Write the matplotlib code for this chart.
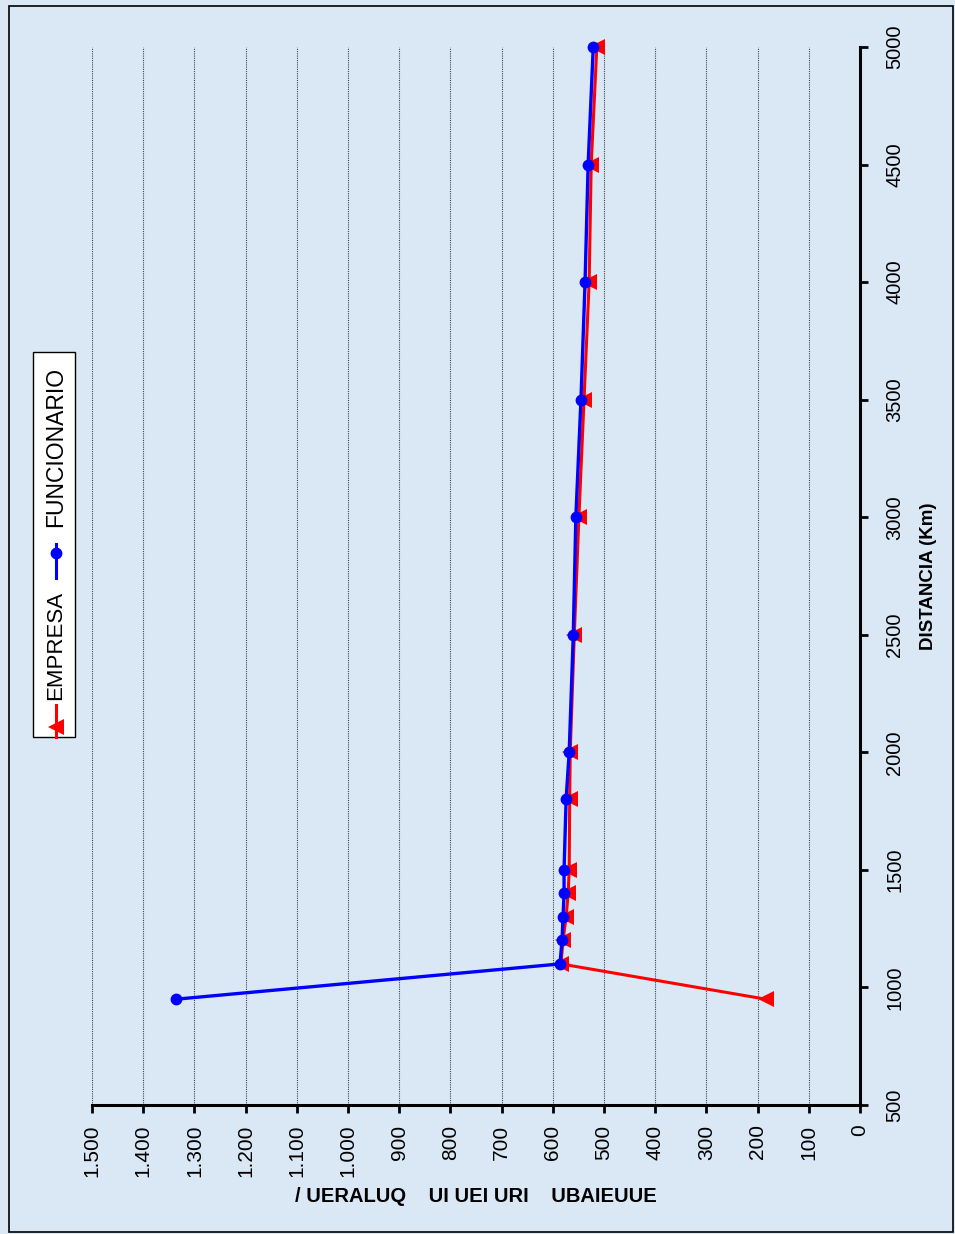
import numpy as np
import matplotlib.pyplot as plt
from matplotlib.lines import Line2D
from matplotlib.patches import Rectangle
from matplotlib.ticker import FuncFormatter

plt.rcParams['font.family'] = ['Liberation Sans', 'DejaVu Sans']

W, H = 955, 1234

# datos (distancia en Km, coste)
distancia = [950, 1100, 1200, 1300, 1400, 1500, 1800, 2000, 2500, 3000, 3500, 4000, 4500, 5000]
empresa = [184, 584, 580, 574, 570, 568, 567, 566, 558, 549, 539, 529, 525, 514]
funcionario = [1336, 586, 582, 580, 578, 578, 574, 568, 560, 555, 545, 537, 531, 521]

valor_ticks = list(range(0, 1600, 100))
dist_ticks = list(range(500, 5500, 500))

bg = '#dae8f6'


def fx(px):
    return px / W


def fy(py):
    return 1 - py / H


fig = plt.figure(figsize=(W / 100, H / 100), dpi=100, facecolor=bg)
ax = fig.add_axes([fx(92), fy(1105), (860 - 92) / W, (1105 - 47) / H])
ax.set_facecolor(bg)

ax.plot(empresa, distancia, color='red', lw=2.2, marker='<', ms=12,
        markeredgewidth=0, zorder=3, clip_on=False)
ax.plot(funcionario, distancia, color='blue', lw=2.4, marker='o', ms=8.5,
        markeredgewidth=0, zorder=4, clip_on=False)

ax.set_xlim(1500, 0)
ax.set_ylim(500, 5000)
ax.set_xticks(valor_ticks)
ax.set_yticks(dist_ticks)
ax.xaxis.set_major_formatter(FuncFormatter(lambda v, p: f"{int(v):,}".replace(",", ".")))
ax.grid(axis='x', color='#444444', linestyle=(0, (1, 1)), linewidth=0.8)
ax.set_axisbelow(True)

for s in ['top', 'left']:
    ax.spines[s].set_visible(False)
for s in ['bottom', 'right']:
    ax.spines[s].set_linewidth(2.2)
    ax.spines[s].set_color('black')

ax.yaxis.tick_right()
ax.tick_params(axis='x', direction='out', length=6, width=2, pad=8, labelsize=15)
ax.tick_params(axis='y', direction='out', length=6, width=2, pad=12, labelsize=14.5)
for t in ax.get_xticklabels():
    t.set_rotation(90)
    t.set_va('top')
    t.set_ha('center')
for t in ax.get_yticklabels():
    t.set_rotation(90)
    t.set_va('center')
    t.set_ha('left')

fig.text(fx(928), fy(576), 'DISTANCIA (Km)', rotation=90, ha='center', va='center',
         fontsize=13.5, fontweight='bold')

# titulo del eje de valores (texto cortado en el original)
fig.text(fx(476), fy(1196), '/ UERALUQ    UI UEI URI    UBAIEUUE', ha='center', va='center',
         fontsize=14.5, fontweight='bold')

# leyenda girada
fig.add_artist(Rectangle((fx(33), fy(737)), (75 - 33) / W, (737 - 352) / H,
                         transform=fig.transFigure, facecolor='white',
                         edgecolor='black', lw=1))
fig.add_artist(Line2D([fx(56), fx(56)], [fy(737), fy(705)], transform=fig.transFigure,
                      color='red', lw=2.2))
fig.add_artist(Line2D([fx(56)], [fy(727)], transform=fig.transFigure, color='red',
                      marker='<', ms=12, markeredgewidth=0))
fig.text(fx(56), fy(645), 'EMPRESA', rotation=90, ha='center', va='center', fontsize=16)
fig.add_artist(Line2D([fx(56), fx(56)], [fy(578), fy(544)], transform=fig.transFigure,
                      color='blue', lw=2.2))
fig.add_artist(Line2D([fx(56)], [fy(553)], transform=fig.transFigure, color='blue',
                      marker='o', ms=8.5, markeredgewidth=0))
fig.text(fx(56), fy(447), 'FUNCIONARIO', rotation=90, ha='center', va='center', fontsize=16.5)

# marco exterior
fig.add_artist(Rectangle((fx(9), fy(1232)), (953 - 9) / W, (1232 - 6) / H,
                         transform=fig.transFigure, fill=False, edgecolor='black', lw=1.2))

fig.savefig('out.png', dpi=100, facecolor=bg)
